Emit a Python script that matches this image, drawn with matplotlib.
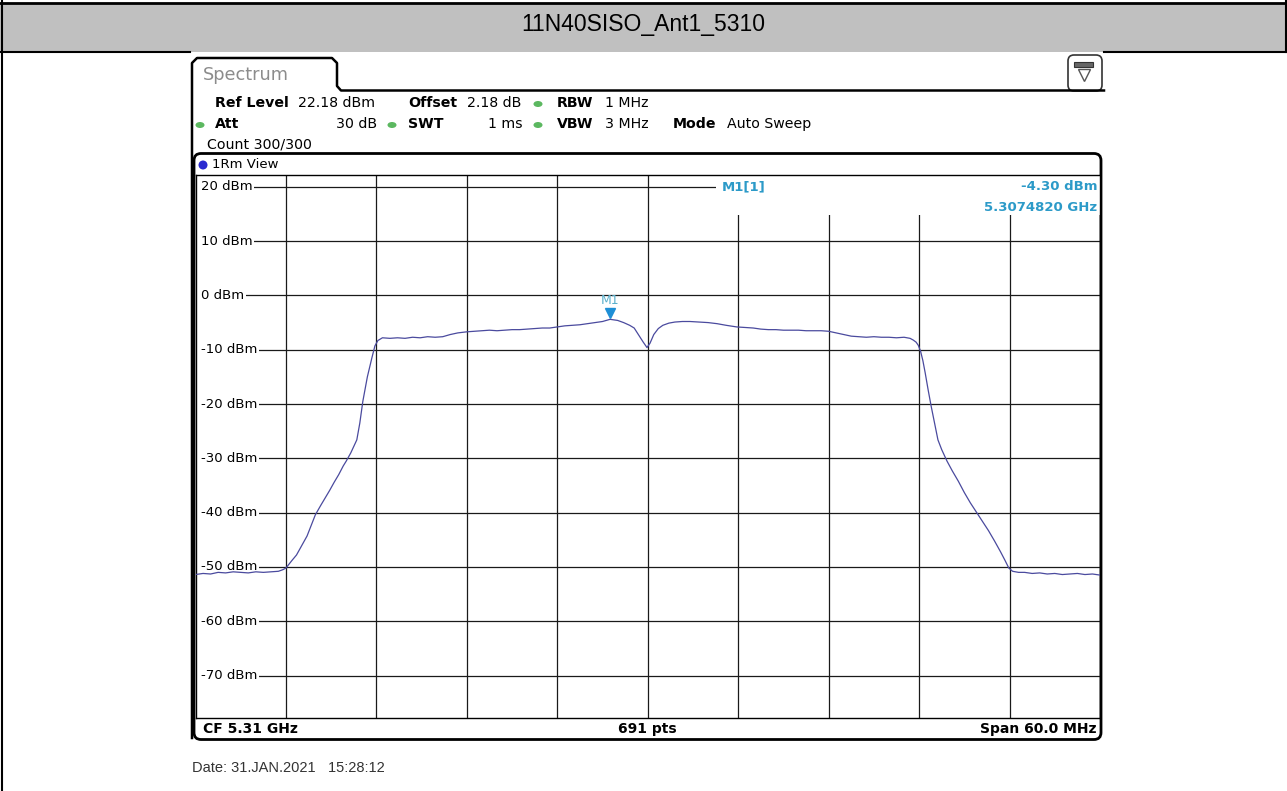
import matplotlib
matplotlib.use("Agg")
import matplotlib.pyplot as plt
from matplotlib.patches import FancyBboxPatch, Ellipse, Rectangle
import numpy as np

# trace data: offset from CF (MHz) and level (dBm)
trace_freq_mhz = [
    -30.0, -29.5, -29.0, -28.5, -28.0, -27.5, -27.0, -26.5, -26.0, -25.5, -25.0, -24.5, -24.2,
    -24.0, -23.6, -23.3, -23.0, -22.6, -22.3, -22.05, -21.7, -21.4, -21.1, -20.8, -20.5, -20.2,
    -20.0, -19.7, -19.5, -19.3, -19.1, -18.9, -18.6, -18.3, -18.1, -17.9, -17.6,
    -17.1, -16.6, -16.1, -15.6, -15.1, -14.6, -14.1, -13.6, -13.1, -12.6, -12.0, -11.5, -11.0,
    -10.5, -10.0, -9.5, -9.0, -8.5, -8.0, -7.5, -7.0, -6.5, -6.0, -5.5, -5.0, -4.5, -4.0, -3.5,
    -3.0, -2.5, -2.0, -1.6, -1.2, -0.9, -0.6, -0.3, -0.05, 0.15, 0.4, 0.7, 1.0, 1.4, 1.8, 2.3,
    2.8, 3.4, 4.0, 4.6, 5.2, 5.9, 6.5, 7.0, 7.5, 8.0, 8.5, 9.0, 9.5, 10.0, 10.5, 11.0, 11.5,
    12.0, 12.5, 13.0, 13.5, 14.0, 14.5, 15.0, 15.5, 16.0, 16.5, 17.0, 17.4, 17.6, 17.8, 17.95,
    18.1, 18.25, 18.4, 18.6, 18.8, 19.0, 19.25, 19.5, 19.85, 20.2, 20.6, 21.0, 21.4, 21.8,
    22.2, 22.6, 23.0, 23.4, 23.7, 23.95, 24.2, 24.6, 25.0, 25.5, 26.0, 26.5, 27.0, 27.5,
    28.0, 28.5, 29.0, 29.5, 30.0,
]
trace_level_dbm = [
    -51.4, -51.2, -51.3, -51.0, -51.1, -50.9, -51.0, -51.1, -50.9, -51.0, -50.9, -50.8, -50.5,
    -50.2, -48.8, -47.8, -46.3, -44.3, -42.2, -40.4, -38.7, -37.3, -35.9, -34.4, -33.0, -31.4,
    -30.5, -29.0, -27.8, -26.6, -23.5, -19.5, -15.0, -11.5, -9.3, -8.3, -7.8,
    -7.9, -7.8, -7.9, -7.7, -7.8, -7.6, -7.7, -7.6, -7.2, -6.9, -6.7, -6.6, -6.5,
    -6.4, -6.5, -6.4, -6.3, -6.3, -6.2, -6.1, -6.0, -6.0, -5.8, -5.6, -5.5, -5.4, -5.2, -5.0,
    -4.8, -4.4, -4.6, -5.0, -5.5, -6.0, -7.3, -8.6, -9.6, -8.8, -7.2, -6.1, -5.5, -5.1, -4.9, -4.8,
    -4.8, -4.9, -5.0, -5.2, -5.5, -5.8, -5.9, -6.0, -6.2, -6.3, -6.3, -6.4, -6.4, -6.4, -6.5, -6.5, -6.5,
    -6.6, -6.9, -7.2, -7.5, -7.6, -7.7, -7.6, -7.7, -7.7, -7.8, -7.7, -7.9, -8.2, -8.6, -9.2,
    -10.3, -12.0, -14.2, -17.4, -20.4, -23.2, -26.6, -28.4, -30.5, -32.3, -34.2, -36.3, -38.2, -39.9,
    -41.6, -43.3, -45.2, -47.2, -48.8, -50.2, -50.8, -51.0, -51.0, -51.2, -51.1, -51.3, -51.2, -51.4,
    -51.3, -51.2, -51.4, -51.3, -51.5,
]

ref_level = 22.18
level_ticks = [20, 10, 0, -10, -20, -30, -40, -50, -60, -70]
freq_divs = [-24, -18, -12, -6, 0, 6, 12, 18, 24]

marker_freq_mhz = -2.518
marker_level = -4.30

title = "11N40SISO_Ant1_5310"

W, H = 1287, 791
fig = plt.figure(figsize=(W / 100, H / 100), dpi=100)
fig.patch.set_facecolor("white")

# background axes in pixel coordinates
bg = fig.add_axes([0, 0, 1, 1])
bg.set_xlim(0, W)
bg.set_ylim(H, 0)
bg.axis("off")

# page table header
bg.add_patch(Rectangle((0, 3), W, 49, facecolor="#c0c0c0", edgecolor="none"))
bg.plot([0, W], [2.5, 2.5], color="black", lw=2)
bg.plot([0, 190], [52, 52], color="black", lw=1.5)
bg.plot([1104, W], [52, 52], color="black", lw=1.5)
bg.plot([1.5, 1.5], [0, H], color="black", lw=1.5)
bg.plot([1285.5, 1285.5], [0, 52], color="black", lw=1.5)
bg.text(643, 25, title, ha="center", va="center", fontsize=16.5,
        family=["Liberation Sans Narrow", "Liberation Sans"], color="black")

# screenshot panel
bg.add_patch(Rectangle((190, 52), 914, 720, facecolor="white", edgecolor="none"))
bg.plot([192, 192, 197, 332, 337, 337, 341, 1104],
        [738, 63, 58, 58, 63, 86, 90.5, 90.5], color="black", lw=1.8)
bg.text(203, 75, "Spectrum", fontsize=12.8, color="#8c8c8c", va="center", family="DejaVu Sans")

# icon top right
bg.add_patch(FancyBboxPatch((1068, 55), 34, 36, boxstyle="round,pad=0,rounding_size=6",
                            facecolor="white", edgecolor="#333333", lw=1.2))
bg.add_patch(Rectangle((1074, 62), 19, 5, facecolor="#666666", edgecolor="#333333", lw=0.8))
bg.plot([1083.5], [75], marker="v", ms=8, mfc="white", mec="#555555", mew=1)

fs = 10.2
font = "DejaVu Sans"
green = "#5cb860"
row1, row2, row3 = 103, 124, 144
bg.text(215, row1, "Ref Level", fontsize=fs, fontweight="bold", va="center", family=font)
bg.text(298, row1, "22.18 dBm", fontsize=fs, va="center", family=font)
bg.text(408, row1, "Offset", fontsize=fs, fontweight="bold", va="center", family=font)
bg.text(467, row1, "2.18 dB", fontsize=fs, va="center", family=font)
bg.text(557, row1, "RBW", fontsize=fs, fontweight="bold", va="center", family=font)
bg.text(605, row1, "1 MHz", fontsize=fs, va="center", family=font)

bg.text(215, row2, "Att", fontsize=fs, fontweight="bold", va="center", family=font)
bg.text(377, row2, "30 dB", fontsize=fs, va="center", ha="right", family=font)
bg.text(408, row2, "SWT", fontsize=fs, fontweight="bold", va="center", family=font)
bg.text(523, row2, "1 ms", fontsize=fs, va="center", ha="right", family=font)
bg.text(557, row2, "VBW", fontsize=fs, fontweight="bold", va="center", family=font)
bg.text(605, row2, "3 MHz", fontsize=fs, va="center", family=font)
bg.text(673, row2, "Mode", fontsize=fs, fontweight="bold", va="center", family=font)
bg.text(727, row2, "Auto Sweep", fontsize=fs, va="center", family=font)
bg.text(207, row3, "Count 300/300", fontsize=fs, va="center", family=font)

for gx, gy in [(538, row1), (200, row2), (392, row2), (538, row2)]:
    bg.add_patch(Ellipse((gx, gy + 1), 9, 6, facecolor=green, edgecolor="none"))

# diagram frame
bg.add_patch(FancyBboxPatch((194, 153.5), 907, 586, boxstyle="round,pad=0,rounding_size=7",
                            facecolor="white", edgecolor="black", lw=2.0, zorder=1))
bg.add_patch(Ellipse((203, 165), 9, 9, facecolor="#2a2ad0", edgecolor="none", zorder=2))
bg.text(212, 165, "1Rm View", fontsize=9.5, va="center", family=font, zorder=2)

bg.text(203, 729, "CF 5.31 GHz", fontsize=10, fontweight="bold", va="center", family=font)
bg.text(647, 729, "691 pts", fontsize=10, fontweight="bold", va="center", ha="center", family=font)
bg.text(1096, 729, "Span 60.0 MHz", fontsize=10, fontweight="bold", va="center", ha="right", family=font)

bg.text(192, 768, "Date: 31.JAN.2021   15:28:12", fontsize=10.5, va="center", color="#333333",
        family=["Liberation Sans Narrow", "Liberation Sans"])

# data axes
x0, x1, y0, y1 = 195.5, 1100, 175, 718
ax = fig.add_axes([x0 / W, 1 - y1 / H, (x1 - x0) / W, (y1 - y0) / H])
ax.set_facecolor("none")
ax.set_xlim(-30, 30)
ax.set_ylim(ref_level - 100, ref_level)
ax.set_xticks(freq_divs)
ax.set_yticks(level_ticks)
ax.tick_params(length=0, labelbottom=False, labelleft=False)
ax.grid(True, color="#1a1a1a", lw=0.9)
for s in ax.spines.values():
    s.set_color("black")
    s.set_linewidth(1.0)

# white strip left of the level labels (grid lines start after the labels)
ax.add_patch(Rectangle((0.0, 0.0), 0.007, 1.0, transform=ax.transAxes,
                       facecolor="white", edgecolor="none", zorder=2))
for lv in level_ticks:
    ax.text(0.006, lv, f"{lv} dBm", transform=ax.get_yaxis_transform(), fontsize=9.5,
            va="center", ha="left", family=font, zorder=3,
            bbox=dict(facecolor="white", edgecolor="none", pad=1.0))

# marker info box
ax.add_patch(Rectangle((0.5755, 0.926), 0.4245, 0.074, transform=ax.transAxes,
                       facecolor="white", edgecolor="none", zorder=2))
mcol = "#2c9ac8"
ax.text(0.582, 20, "M1[1]", transform=ax.get_yaxis_transform(), fontsize=9.5, color=mcol,
        fontweight="bold", va="center", family=font, zorder=3)
ax.text(0.997, 20, f"{marker_level:.2f} dBm", transform=ax.get_yaxis_transform(), fontsize=9.5,
        color=mcol, fontweight="bold", va="center", ha="right", family=font, zorder=3)
ax.text(0.997, 16.2, "5.3074820 GHz", transform=ax.get_yaxis_transform(), fontsize=9.5,
        color=mcol, fontweight="bold", va="center", ha="right", family=font, zorder=3)

ax.plot(trace_freq_mhz, trace_level_dbm, color="#4a4a9e", lw=0.9, zorder=4)
ax.plot([marker_freq_mhz], [marker_level + 1.0], marker="v", ms=7, color="#1e8fd6", zorder=5)
ax.text(marker_freq_mhz, marker_level + 3.4, "M1", fontsize=9, color="#5ab0cc",
        ha="center", va="center", family=font, zorder=5)

fig.savefig("out.png", dpi=100)
